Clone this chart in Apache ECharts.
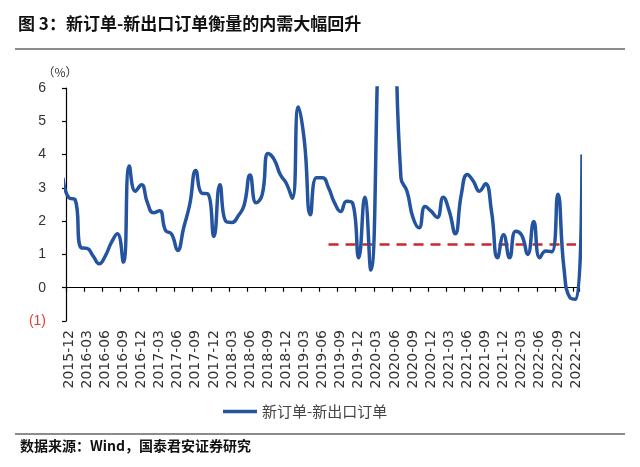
<!DOCTYPE html>
<html>
<head>
<meta charset="utf-8">
<script src="https://cdn.jsdelivr.net/npm/echarts@6/dist/echarts.min.js"></script>
<style>
html, body { margin: 0; padding: 0; background: #fff; }
#main { width: 640px; height: 467px; }
</style>
</head>
<body>
<div id="main"></div>
<script>
// months shown in the plot (first and last one are cut off by the plot edges)
var months = [
    '2015-11', '2015-12',
    '2016-01', '2016-02', '2016-03', '2016-04', '2016-05', '2016-06', '2016-07', '2016-08', '2016-09', '2016-10', '2016-11', '2016-12',
    '2017-01', '2017-02', '2017-03', '2017-04', '2017-05', '2017-06', '2017-07', '2017-08', '2017-09', '2017-10', '2017-11', '2017-12',
    '2018-01', '2018-02', '2018-03', '2018-04', '2018-05', '2018-06', '2018-07', '2018-08', '2018-09', '2018-10', '2018-11', '2018-12',
    '2019-01', '2019-02', '2019-03', '2019-04', '2019-05', '2019-06', '2019-07', '2019-08', '2019-09', '2019-10', '2019-11', '2019-12',
    '2020-01', '2020-02', '2020-03', '2020-04', '2020-05', '2020-06', '2020-07', '2020-08', '2020-09', '2020-10', '2020-11', '2020-12',
    '2021-01', '2021-02', '2021-03', '2021-04', '2021-05', '2021-06', '2021-07', '2021-08', '2021-09', '2021-10', '2021-11', '2021-12',
    '2022-01', '2022-02', '2022-03', '2022-04', '2022-05', '2022-06', '2022-07', '2022-08', '2022-09', '2022-10', '2022-11', '2022-12',
    '2023-01'
];
// 新订单-新出口订单 (%)
var spread = [
    3.3, 2.7,
    2.65, 1.2, 1.18, 0.95, 0.72, 0.95, 1.35, 1.62, 0.77, 3.66, 2.9, 3.09,
    2.55, 2.25, 2.31, 1.72, 1.61, 1.12, 1.8, 2.5, 3.52, 2.84, 2.82, 1.54,
    3.09, 1.99, 1.96, 2.15, 2.47, 3.39, 2.55, 2.79, 4.03, 3.85, 3.4, 3.14,
    2.69, 5.43, 4.4, 2.19, 3.3, 3.3, 3.0, 2.55, 2.29, 2.6, 2.54, 0.9,
    2.72, 0.53, 5.6, 16.7, 15.6, 8.8, 3.3, 2.9, 2.1, 1.8, 2.44, 2.3,
    2.11, 2.72, 2.3, 1.62, 2.8, 3.4, 3.2, 2.9, 3.12, 2.3, 0.9, 1.59,
    0.9, 1.7, 1.58, 1.0, 1.99, 0.9, 1.1, 1.08, 2.81, 0.6, -0.3, -0.35,
    4.0
];
// axis categories (2015-12 ... 2022-12)
var axisMonths = months.slice(1, months.length - 1);
var yTicks = [-1, 0, 1, 2, 3, 4, 5, 6];
// red dashed reference level
var refLevel = 1.3;
var refFrom = '2019-07';
var refTo = '2022-12';

var seriesName = '新订单-新出口订单';
var titleText = '图 3：新订单-新出口订单衡量的内需大幅回升';
var sourceText = '数据来源：Wind，国泰君安证券研究';

// x position of a month: centre of its category slot on the value axis
function monthX(m) {
    return months.indexOf(m) - 0.5;
}
var lineData = months.map(function (m, k) {
    return [monthX(m), spread[k]];
});
var refData = [[monthX(refFrom), refLevel], [monthX(refTo), refLevel]];

var cjk = '"Noto Sans CJK SC", sans-serif';
var latin = '"Liberation Sans", Arial, sans-serif';

var chart = echarts.init(document.getElementById('main'));
var option = {
    animation: false,
    title: {
        text: titleText,
        left: 18,
        top: 15,
        padding: 0,
        textStyle: { fontFamily: cjk, fontSize: 17, fontWeight: 'bold', color: '#111' }
    },
    graphic: [
        { type: 'line', shape: { x1: 15, y1: 49, x2: 625, y2: 49 }, style: { stroke: '#666', lineWidth: 1.5 } },
        { type: 'line', shape: { x1: 15, y1: 434, x2: 625, y2: 434 }, style: { stroke: '#666', lineWidth: 1.5 } },
        {
            type: 'text', left: 20, top: 439,
            style: { text: sourceText, font: 'bold 14px ' + cjk, fill: '#111' }
        }
    ],
    legend: {
        data: [seriesName],
        left: 218,
        top: 399,
        icon: 'rect',
        itemWidth: 34,
        itemHeight: 3.5,
        itemGap: 5,
        textStyle: { fontFamily: cjk, fontSize: 15, color: '#444' }
    },
    grid: {
        left: 66,
        right: 61,
        top: 88,
        bottom: 146,
        containLabel: false
    },
    xAxis: [
        {
            // labels only
            type: 'category',
            data: axisMonths,
            boundaryGap: true,
            position: 'bottom',
            axisLine: { show: false, onZero: false },
            axisTick: { show: false },
            splitLine: { show: false },
            axisLabel: {
                interval: 2,
                rotate: 90,
                margin: 9,
                fontFamily: '"DejaVu Sans", sans-serif',
                fontSize: 14,
                color: '#333'
            }
        },
        {
            // line and ticks at zero, used by the series
            type: 'value',
            min: 0,
            max: axisMonths.length,
            interval: 3,
            position: 'bottom',
            axisLine: { show: true, onZero: true, lineStyle: { color: '#000', width: 1.2 } },
            axisTick: { show: true, length: 4, lineStyle: { color: '#000', width: 1.2 } },
            axisLabel: { show: false },
            splitLine: { show: false }
        }
    ],
    yAxis: {
        type: 'value',
        min: yTicks[0],
        max: yTicks[yTicks.length - 1],
        interval: 1,
        name: '（%）',
        nameLocation: 'end',
        nameGap: 10,
        nameTextStyle: { fontFamily: cjk, fontSize: 12, color: '#333', padding: [0, 12, 0, 0] },
        axisLine: { show: true, lineStyle: { color: '#000', width: 1.2 } },
        axisTick: { show: true, length: 4, lineStyle: { color: '#000', width: 1.2 } },
        splitLine: { show: false },
        axisLabel: {
            margin: 20,
            fontFamily: latin,
            fontSize: 14,
            color: '#333',
            formatter: function (v) {
                return v < 0 ? '{neg|(' + (-v) + ')}' : String(v);
            },
            rich: {
                neg: { color: '#E0403A', fontFamily: latin, fontSize: 14 }
            }
        }
    },
    series: [
        {
            name: seriesName,
            type: 'line',
            xAxisIndex: 1,
            data: lineData,
            smooth: 0.5,
            symbol: 'none',
            clip: true,
            lineStyle: { color: '#24539F', width: 3.5 },
            itemStyle: { color: '#24539F' },
            z: 3
        },
        {
            name: '参考线',
            type: 'line',
            xAxisIndex: 1,
            data: refData,
            symbol: 'none',
            lineStyle: { color: '#C8292C', width: 2.5, type: [10, 7] },
            z: 2
        }
    ]
};
chart.setOption(option);
</script>
</body>
</html>
